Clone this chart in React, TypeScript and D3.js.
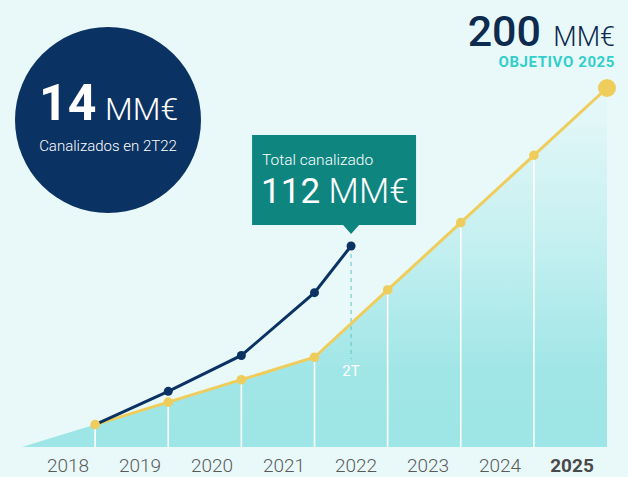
import React from "react";
import * as d3 from "d3";

const years = [2018, 2019, 2020, 2021, 2022, 2023, 2024, 2025];
const targetValues = [12.5, 25, 37.5, 50, 87.5, 125, 162.5, 200];
const realYears = [2018, 2019, 2020, 2021, 2021.5];
const realValues = [12.5, 31, 51, 86, 112];
const areaStart = { year: 2017, value: 0 };
const yearLabels = ["2018", "2019", "2020", "2021", "2022", "2023", "2024", "2025"];

const W = 628;
const H = 477;
const BG = "#e9f9f9";
const NAVY = "#0a3263";
const YELLOW = "#efcd5c";
const TEAL = "#0e857f";
const FONT = "Roboto, 'Open Sans', sans-serif";

export default function App() {
  const x = d3.scaleLinear().domain([2017, 2025]).range([22, 607]);
  const y = d3.scaleLinear().domain([0, 200]).range([447, 88]);
  const labelX = d3.scaleBand<number>().domain(years).range([32, 608]);

  const target = years.map((yr, i) => ({ year: yr, value: targetValues[i] }));
  const real = realYears.map((yr, i) => ({ year: yr, value: realValues[i] }));

  const areaGen = d3
    .area<{ year: number; value: number }>()
    .x((d) => x(d.year))
    .y0(y(0))
    .y1((d) => y(d.value));
  const lineGen = d3
    .line<{ year: number; value: number }>()
    .x((d) => x(d.year))
    .y((d) => y(d.value));

  const last = real[real.length - 1];
  const calloutX = x(last.year);
  const calloutY = y(last.value);

  return (
    <svg width={W} height={H} style={{ position: "absolute", left: 0, top: 0, display: "block" }}>
      <defs>
        <linearGradient id="areaGrad" gradientUnits="userSpaceOnUse" x1="0" x2="0" y1={y(200)} y2={y(0)}>
          <stop offset="0" stopColor="#e8f8f9" />
          <stop offset="0.45" stopColor="#c3eff0" />
          <stop offset="0.78" stopColor="#a1e6e7" />
          <stop offset="1" stopColor="#9de5e6" />
        </linearGradient>
      </defs>
      <rect x={0} y={0} width={W} height={H} fill={BG} />

      <path d={areaGen([areaStart, ...target]) || ""} fill="url(#areaGrad)" />

      {target.slice(0, -1).map((d) => (
        <line key={d.year} x1={x(d.year)} x2={x(d.year)} y1={y(d.value)} y2={y(0)} stroke="#ffffff" strokeWidth={1.6} />
      ))}

      <line
        x1={calloutX}
        x2={calloutX}
        y1={calloutY}
        y2={y(50) + 2}
        stroke="#5cc6c4"
        strokeWidth={1}
        strokeDasharray="4,4"
      />
      <text x={calloutX} y={376} fill="#ffffff" fontFamily={FONT} fontSize={15} textAnchor="middle">
        2T
      </text>

      <path d={lineGen(target) || ""} fill="none" stroke={YELLOW} strokeWidth={3} />
      <path d={lineGen(real) || ""} fill="none" stroke={NAVY} strokeWidth={3} />

      {target.map((d, i) => (
        <circle key={d.year} cx={x(d.year)} cy={y(d.value)} r={i === target.length - 1 ? 9 : 4.8} fill={YELLOW} />
      ))}
      {real.slice(1).map((d) => (
        <circle key={d.year} cx={x(d.year)} cy={y(d.value)} r={4.5} fill={NAVY} />
      ))}

      {yearLabels.map((l, i) => (
        <text
          key={l}
          x={(labelX(years[i]) || 0) + labelX.bandwidth() / 2}
          y={472}
          textAnchor="middle"
          fontFamily={FONT}
          fontSize={19}
          fontWeight={i === yearLabels.length - 1 ? 700 : 300}
          fill={i === yearLabels.length - 1 ? "#4a4a4a" : "#5a5a5a"}
        >
          {l}
        </text>
      ))}

      {/* Callout */}
      <path
        d={`M${calloutX - 99},135 H${calloutX + 65} V225 H${calloutX + 8} L${calloutX},234 L${calloutX - 8},225 H${calloutX - 99} Z`}
        fill={TEAL}
      />
      <text x={calloutX - 89} y={165} fill="#ffffff" fontFamily={FONT} fontSize={15.5} fontWeight={300}>
        Total canalizado
      </text>
      <text x={calloutX - 90} y={203} fill="#ffffff" fontFamily={FONT} fontSize={35}>
        <tspan fontWeight={400}>112</tspan>
        <tspan fontWeight={300}> MM€</tspan>
      </text>

      {/* Circle */}
      <circle cx={108} cy={120} r={93} fill={NAVY} />
      <text x={39} y={120} fill="#ffffff" fontFamily={FONT} fontSize={50} fontWeight={700}>
        14
      </text>
      <text x={105} y={120} fill="#ffffff" fontFamily={FONT} fontSize={32} fontWeight={300}>
        MM€
      </text>
      <text x={108} y={151} fill="#ffffff" fontFamily={FONT} fontSize={15} fontWeight={300} textAnchor="middle">
        Canalizados en 2T22
      </text>

      {/* Target */}
      <text x={541} y={46} textAnchor="end" fill="#0d2a4f" fontFamily={FONT} fontSize={43} fontWeight={500}>
        200
      </text>
      <text x={615} y={46} textAnchor="end" fill="#0d2a4f" fontFamily={FONT} fontSize={27} fontWeight={300}>
        MM€
      </text>
      <text
        x={615}
        y={67}
        textAnchor="end"
        fill="#31cfcb"
        fontFamily={FONT}
        fontSize={15}
        fontWeight={700}
        letterSpacing={0.6}
      >
        OBJETIVO 2025
      </text>
    </svg>
  );
}
